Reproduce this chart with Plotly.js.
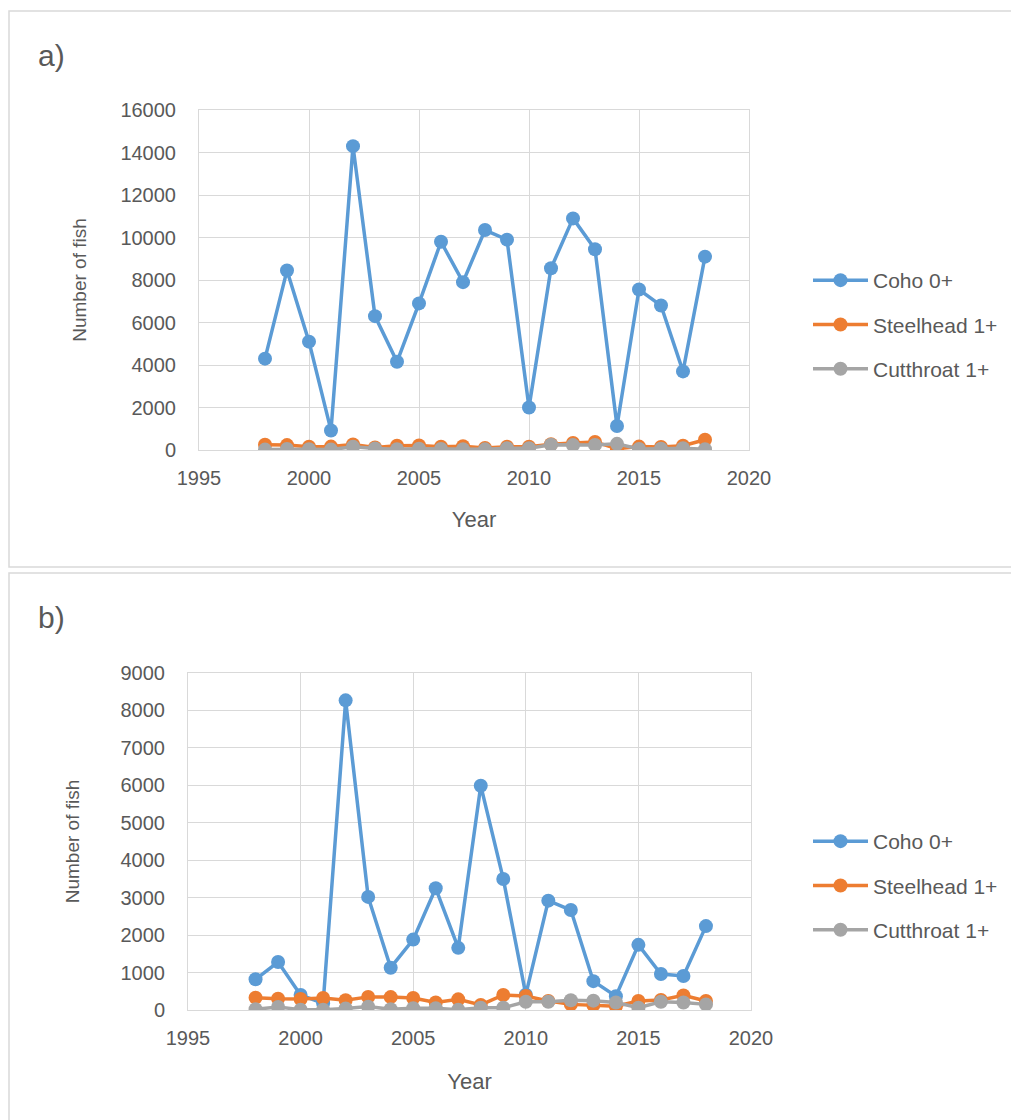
<!DOCTYPE html>
<html>
<head>
<meta charset="utf-8">
<script src="https://cdn.plot.ly/plotly-3.0.1.min.js"></script>
<style>html,body{margin:0;padding:0;background:#fff;}#chart{width:1011px;height:1120px;}</style>
</head>
<body>
<div id="chart"></div>
<script>
const years = [1998,1999,2000,2001,2002,2003,2004,2005,2006,2007,2008,2009,2010,2011,2012,2013,2014,2015,2016,2017,2018];

// Panel a)
const cohoA = [4300,8450,5100,920,14300,6300,4150,6900,9800,7900,10350,9900,2000,8550,10900,9450,1130,7550,6800,3700,9100];
const steelheadA = [250,230,150,160,260,120,200,210,150,180,100,150,150,270,330,380,60,160,140,200,480];
const cutthroatA = [20,50,40,20,150,70,40,60,50,40,30,80,80,250,230,240,290,50,60,80,40];

// Panel b)
const cohoB = [820,1280,400,180,8270,3020,1130,1880,3250,1660,5990,3500,410,2920,2670,770,370,1740,960,910,2240];
const steelheadB = [330,300,295,320,260,350,345,320,200,285,135,400,375,240,150,135,100,240,270,390,240];
const cutthroatB = [20,80,10,10,40,90,20,45,45,10,60,60,220,220,260,250,200,60,220,200,150];

const seriesNames = ['Coho 0+','Steelhead 1+','Cutthroat 1+'];
const colors = ['#5B9BD5','#ED7D31','#A5A5A5'];
const panelLabels = ['a)','b)'];
const axisTitleX = 'Year';
const axisTitleY = 'Number of fish';

const W = 1011, H = 1120;
const px = v => v / W;
const py = v => 1 - v / H;
const FONT = 'Liberation Sans, Arial, sans-serif';
const TXT = '#595959';

function mk(x, y, i, xa, ya, lg) {
  return {
    x: x, y: y, type: 'scatter', mode: 'lines+markers',
    name: seriesNames[i], xaxis: xa, yaxis: ya,
    legend: lg, legendgroup: lg + i, showlegend: true,
    line: {color: colors[i], width: 3.5},
    marker: {color: colors[i], size: 14}
  };
}

const data = [
  mk(years, cohoA, 0, 'x', 'y', 'legend'),
  mk(years, steelheadA, 1, 'x', 'y', 'legend'),
  mk(years, cutthroatA, 2, 'x', 'y', 'legend'),
  mk(years, cohoB, 0, 'x2', 'y2', 'legend2'),
  mk(years, steelheadB, 1, 'x2', 'y2', 'legend2'),
  mk(years, cutthroatB, 2, 'x2', 'y2', 'legend2')
];

function xax(domain, anchor, standoff) {
  return {
    domain: domain, anchor: anchor, range: [1995, 2020], dtick: 5, tick0: 1995,
    showgrid: true, gridcolor: '#D9D9D9', gridwidth: 1,
    showline: true, linecolor: '#D9D9D9', linewidth: 1, mirror: true,
    zeroline: false, ticks: 'outside', ticklen: 10, tickcolor: 'rgba(0,0,0,0)',
    tickfont: {family: FONT, size: 20, color: TXT},
    title: {text: axisTitleX, font: {family: FONT, size: 22, color: TXT}, standoff: standoff}
  };
}
function yax(domain, anchor, range, dtick, standoff) {
  return {
    domain: domain, anchor: anchor, range: range, dtick: dtick, tickformat: 'd',
    showgrid: true, gridcolor: '#D9D9D9', gridwidth: 1,
    showline: true, linecolor: '#D9D9D9', linewidth: 1, mirror: true,
    zeroline: false, ticks: 'outside', ticklen: 18, tickcolor: 'rgba(0,0,0,0)',
    tickfont: {family: FONT, size: 20, color: TXT},
    title: {text: axisTitleY, font: {family: FONT, size: 19, color: TXT}, standoff: standoff}
  };
}

function leg(yTop) {
  return {
    x: px(808), xanchor: 'left', y: py(yTop), yanchor: 'top',
    font: {family: FONT, size: 21, color: TXT},
    traceorder: 'grouped', tracegroupgap: 14, itemwidth: 55,
    bgcolor: 'rgba(0,0,0,0)', borderwidth: 0
  };
}

const layout = {
  width: W, height: H,
  margin: {l: 0, r: 0, t: 0, b: 0},
  paper_bgcolor: '#fff', plot_bgcolor: '#fff',
  xaxis: xax([px(199), px(749)], 'y', 23),
  yaxis: yax([py(450), py(110)], 'x', [0, 16000], 2000, 28),
  xaxis2: xax([px(188), px(751)], 'y2', 25),
  yaxis2: yax([py(1010), py(673)], 'x2', [0, 9000], 1000, 35),
  legend: leg(260),
  legend2: leg(821),
  shapes: [
    {type: 'rect', xref: 'paper', yref: 'paper', x0: px(9), x1: px(1015), y0: py(567), y1: py(11), line: {color: '#D9D9D9', width: 1.5}},
    {type: 'rect', xref: 'paper', yref: 'paper', x0: px(9), x1: px(1015), y0: py(1125), y1: py(573), line: {color: '#D9D9D9', width: 1.5}}
  ],
  annotations: [
    {text: panelLabels[0], xref: 'paper', yref: 'paper', x: px(36), y: py(55), xanchor: 'left', yanchor: 'middle', showarrow: false, font: {family: FONT, size: 30, color: TXT}},
    {text: panelLabels[1], xref: 'paper', yref: 'paper', x: px(36), y: py(617), xanchor: 'left', yanchor: 'middle', showarrow: false, font: {family: FONT, size: 30, color: TXT}}
  ]
};

Plotly.newPlot('chart', data, layout, {displayModeBar: false, staticPlot: true});
</script>
</body>
</html>
